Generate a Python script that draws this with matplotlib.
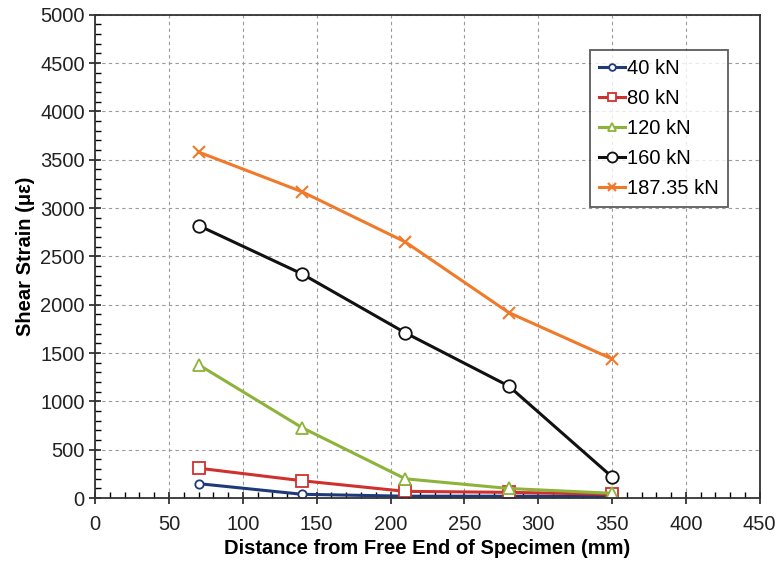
import matplotlib
matplotlib.use("Agg")
import matplotlib.pyplot as plt
from matplotlib.ticker import MultipleLocator

distance = [70, 140, 210, 280, 350]
s40 = [150, 40, 20, 20, 20]
s80 = [310, 180, 70, 60, 40]
s120 = [1380, 730, 200, 100, 50]
s160 = [2820, 2320, 1710, 1160, 220]
s187 = [3580, 3170, 2650, 1920, 1440]

plt.rcParams['font.family'] = ['Liberation Sans', 'DejaVu Sans']

fig = plt.figure(figsize=(7.8, 5.68), dpi=100)
ax = fig.add_axes([0.122, 0.123, 0.852, 0.851])

series = [
    (s40, "40 kN", "#1f3a7a", "o", 6),
    (s80, "80 kN", "#d0312d", "s", 8),
    (s120, "120 kN", "#8db33a", "^", 8),
    (s160, "160 kN", "#111111", "o", 9),
    (s187, "187.35 kN", "#f07a2a", "x", 8),
]
for vals, lab, col, mk, ms in series:
    if mk == "x":
        ax.plot(distance, vals, color=col, lw=2.2, marker=mk, ms=ms,
                mew=1.5, label=lab)
    else:
        ax.plot(distance, vals, color=col, lw=2.2, marker=mk, ms=ms,
                mfc="white", mec=col, mew=1.3, label=lab)

ax.set_xlim(0, 450)
ax.set_ylim(0, 5000)
ax.xaxis.set_major_locator(MultipleLocator(50))
ax.xaxis.set_minor_locator(MultipleLocator(10))
ax.yaxis.set_major_locator(MultipleLocator(500))
ax.yaxis.set_minor_locator(MultipleLocator(100))
ax.tick_params(which="major", direction="inout", length=8, width=1.2,
               labelsize=14.5, colors="#222222")
ax.tick_params(axis="x", which="major", pad=8)
ax.tick_params(which="minor", direction="in", length=4, width=1)
ax.grid(True, which="major", linestyle=(0, (3, 3)), color="#9a9a9a", lw=0.8)
for sp in ax.spines.values():
    sp.set_linewidth(1.3)
    sp.set_color("#333333")

ax.set_xlabel("Distance from Free End of Specimen (mm)", fontsize=14.5,
              fontweight="bold", labelpad=4)
ax.set_ylabel("Shear Strain (\u03bc\u03b5)", fontsize=14.5,
              fontweight="bold", labelpad=4)

leg = ax.legend(loc="upper right", bbox_to_anchor=(0.952, 0.928),
                borderaxespad=0, fontsize=14.5, frameon=True, fancybox=False,
                handlelength=1.3, handletextpad=0.1, borderpad=0.45,
                labelspacing=0.55, markerscale=0.8)
leg.get_frame().set_edgecolor("#333333")
leg.get_frame().set_linewidth(1.3)

fig.savefig("out.png", dpi=100)
